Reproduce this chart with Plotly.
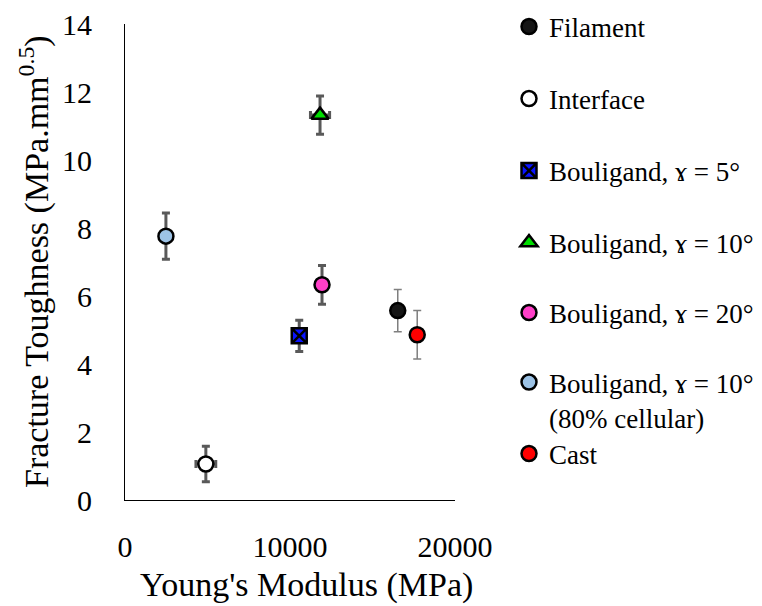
import plotly.graph_objects as go

# Measured properties per material
names = [
    "Filament",
    "Interface",
    "Bouligand, ɤ = 5°",
    "Bouligand, ɤ = 10°",
    "Bouligand, ɤ = 20°",
    "Bouligand, ɤ = 10°<br>(80% cellular)",
    "Cast",
]
modulus = [16530, 4900, 10560, 11820, 11940, 2480, 17710]          # MPa
toughness = [5.57, 1.06, 4.83, 11.32, 6.33, 7.76, 4.86]            # MPa.mm^0.5
toughness_err = [0.62, 0.52, 0.46, 0.56, 0.57, 0.68, 0.71]
modulus_err = [0, 600, 0, 580, 0, 0, 0]

# Marker styling per series
symbols = ["circle", "circle", "square-x", "triangle-up", "circle", "circle", "circle"]
fills = ["#161616", "#ffffff", "#0a14ff", "#00dd00", "#ff3fc8", "#9dc3e6", "#ff0000"]
sizes = [15, 15, 15, 15, 15, 15, 15]
err_colors = ["#7f7f7f", "#595959", "#595959", "#595959", "#595959", "#595959", "#7f7f7f"]
err_widths = [1.5, 3, 3, 3, 3, 3, 1.5]
legend_rows_px = [27, 99, 171, 243, 313, 400, 454]

FONT = "Liberation Serif"
W, H = 762, 606
L, R, T, B = 125, 307, 24, 106
plot_h = H - T - B
plot_w = W - L - R

fig = go.Figure()
for i, name in enumerate(names):
    legend_id = "legend" if i == 0 else f"legend{i + 1}"
    fig.add_trace(go.Scatter(
        x=[modulus[i]], y=[toughness[i]],
        mode="markers",
        name=name,
        legend=legend_id,
        marker=dict(symbol=symbols[i], size=sizes[i], color=fills[i],
                    line=dict(color="#000000", width=2.5)),
        error_y=dict(type="data", array=[toughness_err[i]], color=err_colors[i],
                     thickness=err_widths[i], width=4),
        error_x=dict(type="data", array=[modulus_err[i]], color=err_colors[i],
                     thickness=err_widths[i], width=4, visible=modulus_err[i] > 0),
    ))

layout_legends = {}
for i, py in enumerate(legend_rows_px):
    key = "legend" if i == 0 else f"legend{i + 1}"
    layout_legends[key] = dict(
        x=(509 - L) / plot_w, xanchor="left",
        y=1 - (py - T) / plot_h, yanchor="middle",
        font=dict(family=FONT, size=27, color="#000000"),
        bgcolor="rgba(0,0,0,0)", valign="top",
        itemwidth=30,
    )

fig.update_layout(
    width=W, height=H,
    margin=dict(l=L, r=R, t=T, b=B, autoexpand=False),
    paper_bgcolor="#ffffff", plot_bgcolor="#ffffff",
    font=dict(family=FONT, color="#000000"),
    showlegend=True,
    **layout_legends,
    xaxis=dict(range=[0, 20000], tickvals=[0, 10000, 20000],
               ticktext=["0", "10000", "20000"],
               showgrid=False, zeroline=False,
               showline=True, linecolor="#000000", linewidth=1,
               ticks="", ticklabelstandoff=20,
               tickfont=dict(family=FONT, size=30, color="#000000")),
    yaxis=dict(range=[0, 14], tickvals=list(range(0, 15, 2)),
               showgrid=False, zeroline=False,
               showline=True, linecolor="#000000", linewidth=1,
               ticks="", ticklabelstandoff=26,
               tickfont=dict(family=FONT, size=30, color="#000000")),
    annotations=[
        dict(text="Young's Modulus (MPa)", xref="paper", yref="paper",
             x=(306 - L) / plot_w, y=1 - (585 - T) / plot_h,
             xanchor="center", yanchor="middle", showarrow=False,
             font=dict(family=FONT, size=34, color="#000000")),
        dict(text="Fracture Toughness (MPa.mm<sup>0.5</sup>)", xref="paper", yref="paper",
             x=(34 - L) / plot_w, y=0.5, textangle=-90,
             xanchor="center", yanchor="middle", showarrow=False,
             font=dict(family=FONT, size=34, color="#000000")),
    ],
)

fig.write_html("out.html")
